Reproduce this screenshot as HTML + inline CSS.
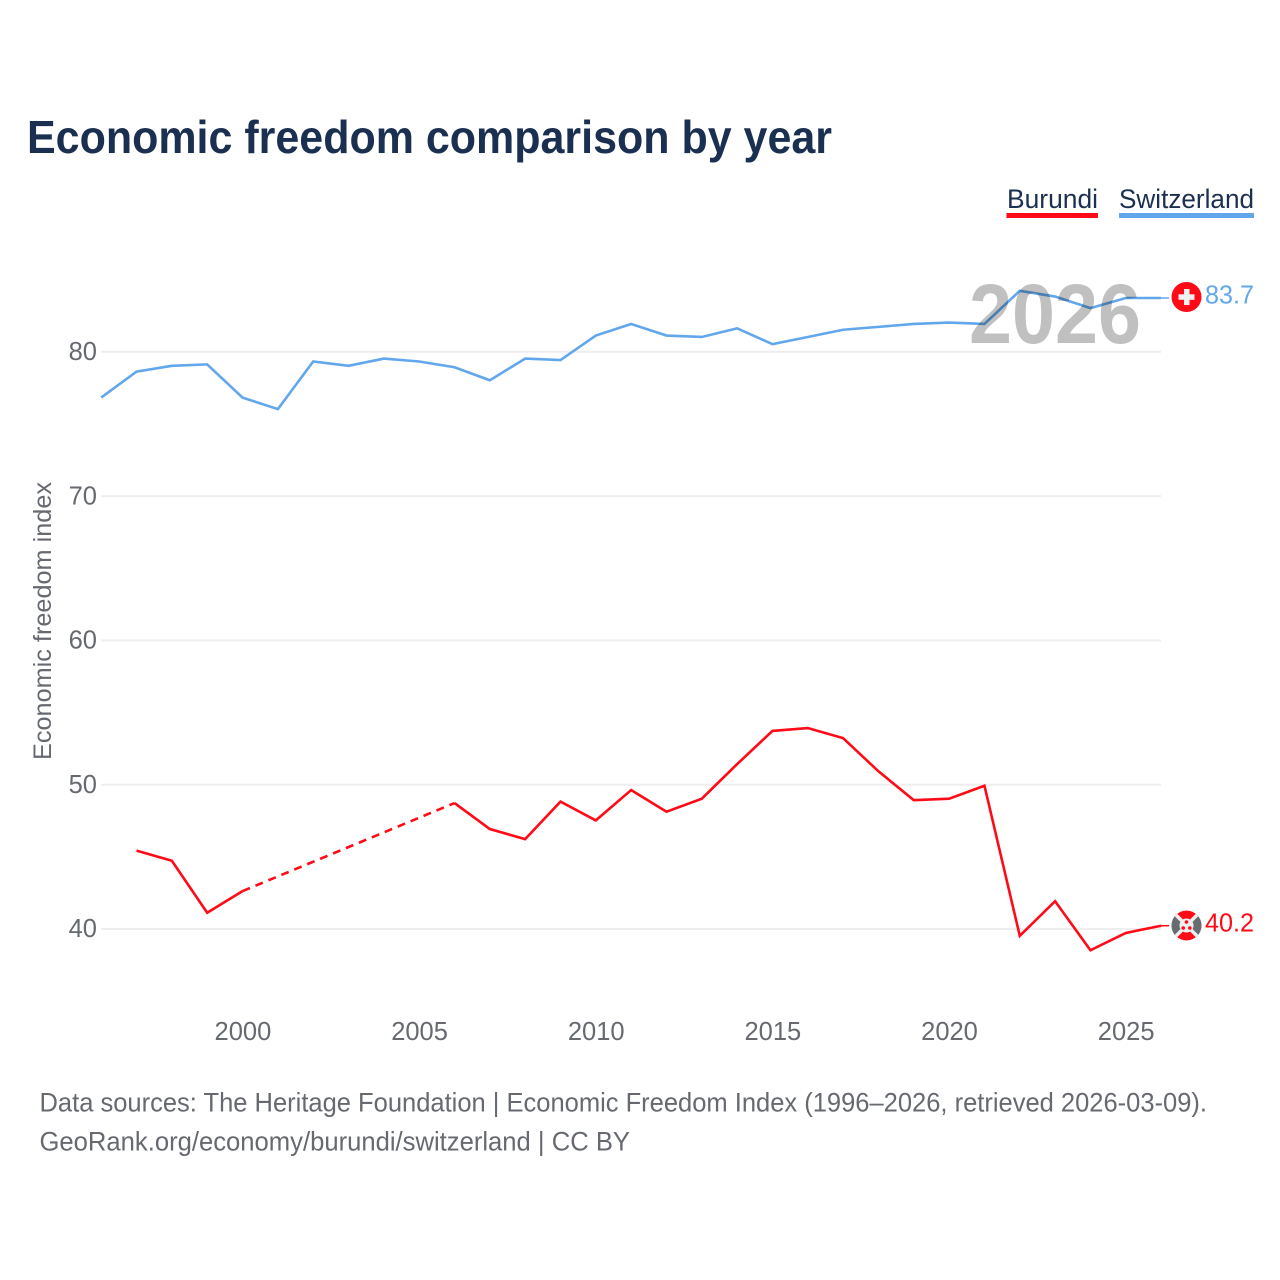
<!DOCTYPE html>
<html lang="en">
<head>
<meta charset="utf-8">
<title>Economic freedom comparison by year</title>
<style>
html,body{margin:0;padding:0;background:#fff;width:1280px;height:1280px;overflow:hidden}
svg{display:block;font-family:"Liberation Sans",sans-serif}
</style>
</head>
<body>
<svg id="chart" width="1280" height="1280" viewBox="0 0 1280 1280" xmlns="http://www.w3.org/2000/svg">
  <defs>
    <clipPath id="bi-clip"><circle cx="1186.500" cy="925.500" r="15"/></clipPath>
  </defs>
  <rect width="1280" height="1280" fill="#fff"/>
  <text x="27" y="153" font-size="46" font-weight="700" fill="#1b3050" textLength="805" lengthAdjust="spacingAndGlyphs">Economic freedom comparison by year</text>

  <g>
    <g>
      <text x="1007" y="208" font-size="27" fill="#1b3050" textLength="91" lengthAdjust="spacingAndGlyphs">Burundi</text>
      <rect x="1006.500" y="213" width="91.500" height="5" fill="#ff0a16"/>
    </g>
    <g>
      <text x="1119" y="208" font-size="27" fill="#1b3050" textLength="135" lengthAdjust="spacingAndGlyphs">Switzerland</text>
      <rect x="1119" y="213" width="135" height="5" fill="#62a7ec"/>
    </g>
  </g>

  <g id="grid"></g>
  <g id="yticks"></g>
  <g id="xticks"></g>
  <text transform="translate(51,760) rotate(-90)" font-size="25" fill="#666a70" textLength="278" lengthAdjust="spacingAndGlyphs">Economic freedom index</text>

  <g id="series" transform="translate(-0.4,-0.4)"></g>

  <text x="969" y="343" font-size="84" font-weight="700" fill="#c0c0c0" style="mix-blend-mode:multiply" textLength="172" lengthAdjust="spacingAndGlyphs">2026</text>

  <g>
    <circle cx="1186.500" cy="297" r="15" fill="#ff0a16"/>
    <rect x="1184" y="289" width="5.500" height="16" fill="#f0f0f0"/>
    <rect x="1178.500" y="294.300" width="16" height="5.500" fill="#f0f0f0"/>
  </g>
  <g>
    <g clip-path="url(#bi-clip)">
      <circle cx="1186.500" cy="925.500" r="15" fill="#ff0a16"/>
      <polygon points="1169,908 1186.500,925.500 1169,943" fill="#666c70"/>
      <polygon points="1204,908 1186.500,925.500 1204,943" fill="#666c70"/>
      <line x1="1171.500" y1="910.500" x2="1201.500" y2="940.500" stroke="#eee" stroke-width="3.500"/>
      <line x1="1201.500" y1="910.500" x2="1171.500" y2="940.500" stroke="#eee" stroke-width="3.500"/>
      <circle cx="1186.500" cy="925.500" r="7" fill="#eee"/>
      <circle cx="1186.500" cy="922" r="1.800" fill="#ff0a16"/>
      <circle cx="1183.200" cy="928" r="1.800" fill="#ff0a16"/>
      <circle cx="1189.800" cy="928" r="1.800" fill="#ff0a16"/>
    </g>
  </g>
  <text id="label-ch" x="1205" y="303.500" font-size="26" fill="#62a7ec" textLength="49" lengthAdjust="spacingAndGlyphs"></text>
  <text id="label-bi" x="1205" y="931.500" font-size="26" fill="#ff0a16" textLength="49" lengthAdjust="spacingAndGlyphs"></text>

  <g>
    <text x="39.500" y="1111.500" font-size="27" fill="#666a70" textLength="1167.500" lengthAdjust="spacingAndGlyphs">Data sources: The Heritage Foundation | Economic Freedom Index (1996–2026, retrieved 2026-03-09).</text>
    <text x="39.500" y="1150.500" font-size="27" fill="#666a70" textLength="590.500" lengthAdjust="spacingAndGlyphs">GeoRank.org/economy/burundi/switzerland | CC BY</text>
  </g>
</svg>
<script>
var years = [1996,1997,1998,1999,2000,2001,2002,2003,2004,2005,2006,2007,2008,2009,2010,2011,2012,2013,2014,2015,2016,2017,2018,2019,2020,2021,2022,2023,2024,2025,2026];
var switzerland = [76.8,78.6,79.0,79.1,76.8,76.0,79.3,79.0,79.5,79.3,78.9,78.0,79.5,79.4,81.1,81.9,81.1,81.0,81.6,80.5,81.0,81.5,81.7,81.9,82.0,81.9,84.2,83.8,83.0,83.7,83.7];
var burundi = [null,45.4,44.7,41.1,42.6,null,null,null,null,null,48.7,46.9,46.2,48.8,47.5,49.6,48.1,49.0,51.4,53.7,53.9,53.2,50.9,48.9,49.0,49.9,39.5,41.9,38.5,39.7,40.2];
var yTicks = [40,50,60,70,80];
var xTicks = [2000,2005,2010,2015,2020,2025];

var NS = 'http://www.w3.org/2000/svg';
function xScale(year){ return 101.6 + (year - 1996) * 35.33; }
function yScale(v){ return 929 - (v - 40) * 14.43; }
function make(tag, attrs, parent){
  var el = document.createElementNS(NS, tag);
  for (var k in attrs) el.setAttribute(k, attrs[k]);
  parent.appendChild(el);
  return el;
}
var gridG = document.getElementById('grid');
var yG = document.getElementById('yticks');
var xG = document.getElementById('xticks');
var seriesG = document.getElementById('series');

yTicks.forEach(function(t){
  var line = make('line', {x1:101, x2:1161, y1:yScale(t), y2:yScale(t), stroke:'#eeeeee', 'stroke-width':2}, gridG);
  
  
  var label = make('text', {x:97, y:yScale(t) + 8.2, 'text-anchor':'end', 'font-size':25.5, fill:'#666a70'}, yG);
  
  
  label.textContent = t;
});
xTicks.forEach(function(t){
  var label = make('text', {x:xScale(t), y:1040, 'text-anchor':'middle', 'font-size':25.5, fill:'#666a70'}, xG);
  
  
  label.textContent = t;
});

function drawSeries(values, color, name){
  var run = [], prev = null;
  function flush(){
    if (run.length > 1) {
      var solid = make('polyline', {points:run.join(' '), fill:'none', stroke:color, 'stroke-width':2.6, 'stroke-linejoin':'miter'}, seriesG);
      
      
    }
    run = [];
  }
  values.forEach(function(v, i){
    if (v === null) { flush(); return; }
    if (prev !== null && i - prev > 1) {
      var gap = make('line', {x1:xScale(years[prev]), y1:yScale(values[prev]), x2:xScale(years[i]), y2:yScale(v), stroke:color, 'stroke-width':2.6, 'stroke-dasharray':'8 6'}, seriesG);
      
      
    }
    run.push(xScale(years[i]) + ',' + yScale(v));
    prev = i;
  });
  flush();
  var last = values[values.length - 1];
  var tail = make('line', {x1:xScale(years[years.length - 1]), y1:yScale(last), x2:xScale(years[years.length - 1]) + 8, y2:yScale(last), stroke:color, 'stroke-width':1.5}, seriesG);
  
  
}
drawSeries(switzerland, '#62a7ec', 'switzerland');
drawSeries(burundi, '#ff0a16', 'burundi');
document.getElementById('label-ch').textContent = switzerland[switzerland.length - 1].toFixed(1);
document.getElementById('label-bi').textContent = burundi[burundi.length - 1].toFixed(1);
</script>
</body>
</html>
